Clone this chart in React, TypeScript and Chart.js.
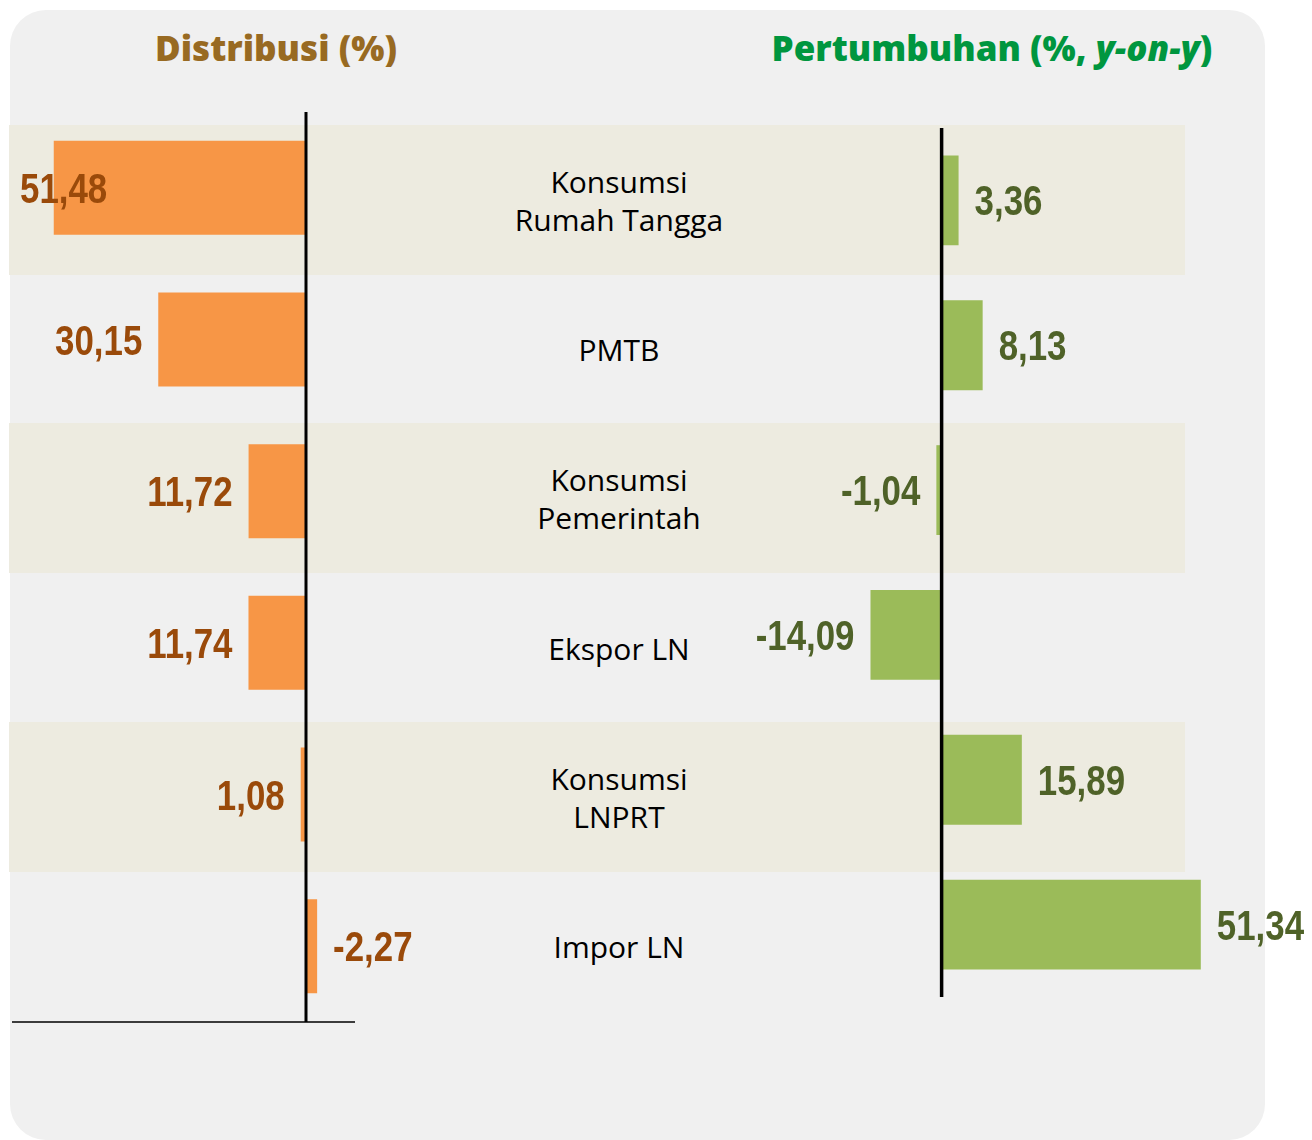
import React, { useEffect, useRef } from "react";
import { Chart, registerables } from "chart.js";

Chart.register(...registerables);

// ---- data ----
const categories: string[][] = [
  ["Konsumsi", "Rumah Tangga"],
  ["PMTB"],
  ["Konsumsi", "Pemerintah"],
  ["Ekspor LN"],
  ["Konsumsi", "LNPRT"],
  ["Impor LN"],
];
const distribusi = [51.48, 30.15, 11.72, 11.74, 1.08, -2.27];
const pertumbuhan = [3.36, 8.13, -1.04, -14.09, 15.89, 51.34];
const titleLeft = "Distribusi (%)";
const titleRightMain = "Pertumbuhan (%, ";
const titleRightItalic = "y-on-y";
const titleRightEnd = ")";

const fmt = (v: number) => v.toFixed(2).replace(".", ",");
const VALUE_FONT = "bold 42px 'Liberation Sans', Arial, sans-serif";
const NARROW = 0.83;

function valueLabelPlugin(color: string, gap: number, clampPad: number) {
  return {
    id: "valueLabels",
    afterDatasetsDraw(chart: any) {
      const ctx = chart.ctx as CanvasRenderingContext2D;
      const meta = chart.getDatasetMeta(0);
      const xs = chart.scales.x;
      const zero = xs.getPixelForValue(0);
      const vals = chart.data.datasets[0].data as number[];
      ctx.save();
      ctx.font = VALUE_FONT;
      ctx.fillStyle = color;
      ctx.textBaseline = "alphabetic";
      meta.data.forEach((bar: any, i: number) => {
        const text = fmt(vals[i]);
        const end = bar.x;
        const w = ctx.measureText(text).width * NARROW;
        const y = bar.y + 15;
        let xLeft: number;
        if (end < zero) {
          xLeft = end - gap - w;
          if (xLeft < chart.chartArea.left + clampPad) xLeft = chart.chartArea.left + clampPad;
        } else {
          xLeft = end + gap;
        }
        ctx.save();
        ctx.translate(xLeft, y);
        ctx.scale(NARROW, 1);
        ctx.textAlign = "left";
        ctx.fillText(text, 0, 0);
        ctx.restore();
      });
      ctx.restore();
    },
  };
}

function axisLinePlugin(width: number, bottomLineTo: number | null) {
  return {
    id: "axisLine",
    afterDatasetsDraw(chart: any) {
      const ctx = chart.ctx as CanvasRenderingContext2D;
      const { top, bottom, left } = chart.chartArea;
      const xs = chart.scales.x;
      const zero = xs.getPixelForValue(0);
      ctx.save();
      ctx.strokeStyle = "#000000";
      ctx.lineWidth = width;
      ctx.beginPath();
      ctx.moveTo(zero, top);
      ctx.lineTo(zero, bottom);
      ctx.stroke();
      if (bottomLineTo !== null) {
        ctx.lineWidth = 1.5;
        ctx.beginPath();
        ctx.moveTo(left, bottom);
        ctx.lineTo(xs.getPixelForValue(bottomLineTo), bottom);
        ctx.stroke();
      }
      ctx.restore();
    },
  };
}

function BarCanvas(props: {
  values: number[];
  color: string;
  labelColor: string;
  reverse: boolean;
  min: number;
  max: number;
  padding: { left: number; right: number; top: number; bottom: number };
  width: number;
  height: number;
  left: number;
  lineWidth: number;
  bottomLineTo: number | null;
}) {
  const ref = useRef<HTMLCanvasElement>(null);
  useEffect(() => {
    if (!ref.current) return;
    const chart = new Chart(ref.current, {
      type: "bar",
      data: {
        labels: categories.map((c) => c.join(" ")),
        datasets: [
          {
            data: props.values,
            backgroundColor: props.color,
            borderWidth: 0,
            barPercentage: 0.62,
            categoryPercentage: 1,
          },
        ],
      },
      options: {
        indexAxis: "y",
        animation: false,
        responsive: false,
        maintainAspectRatio: false,
        layout: { padding: props.padding },
        scales: {
          x: { display: false, reverse: props.reverse, min: props.min, max: props.max },
          y: { display: false },
        },
        plugins: { legend: { display: false }, tooltip: { enabled: false } },
      },
      plugins: [axisLinePlugin(props.lineWidth, props.bottomLineTo), valueLabelPlugin(props.labelColor, 16, 8)],
    } as any);
    return () => chart.destroy();
  }, []);
  return (
    <canvas
      ref={ref}
      width={props.width}
      height={props.height}
      style={{ position: "absolute", left: props.left, top: 0, width: props.width, height: props.height }}
    />
  );
}

export default function App() {
  const labelFont = "'Open Sans', 'Noto Sans', sans-serif";
  return (
    <div style={{ position: "absolute", left: 0, top: 0, width: 1312, height: 1140, background: "#ffffff", overflow: "hidden" }}>
      <div
        style={{
          position: "absolute",
          left: 10,
          top: 10,
          width: 1255,
          height: 1130,
          background: "#F0F0F0",
          borderRadius: 36,
        }}
      />
      {categories.map((_, i) =>
        i % 2 === 0 ? (
          <div
            key={"band" + i}
            style={{
              position: "absolute",
              left: 9,
              width: 1176,
              top: 125 + i * 149.2,
              height: 150,
              background: "#EDEBE0",
            }}
          />
        ) : null
      )}
      <div
        style={{
          position: "absolute",
          left: 76,
          width: 400,
          top: 28,
          textAlign: "center",
          fontFamily: labelFont,
          fontWeight: 800,
          fontSize: 35,
          lineHeight: "40px",
          color: "#986A22",
          whiteSpace: "nowrap",
        }}
      >
        {titleLeft}
      </div>
      <div
        style={{
          position: "absolute",
          left: 742,
          width: 500,
          top: 28,
          textAlign: "center",
          fontFamily: labelFont,
          fontWeight: 800,
          fontSize: 35,
          lineHeight: "40px",
          color: "#00963F",
          whiteSpace: "nowrap",
        }}
      >
        {titleRightMain}
        <i>{titleRightItalic}</i>
        {titleRightEnd}
      </div>
      {categories.map((lines, i) => (
        <div
          key={"lab" + i}
          style={{
            position: "absolute",
            left: 419,
            width: 400,
            top: 201 + i * 149.2 - (lines.length * 38) / 2,
            textAlign: "center",
            fontFamily: labelFont,
            fontSize: 30,
            lineHeight: "38px",
            color: "#000000",
          }}
        >
          {lines.map((l, j) => (
            <div key={j}>{l}</div>
          ))}
        </div>
      ))}
      <BarCanvas
        values={distribusi}
        color="#F79646"
        labelColor="#9A4A0A"
        reverse={true}
        min={-70}
        max={60}
        padding={{ left: 12, right: 11, top: 112, bottom: 118 }}
        width={660}
        height={1140}
        left={0}
        lineWidth={3}
        bottomLineTo={-10}
      />
      <BarCanvas
        values={pertumbuhan}
        color="#9BBB59"
        labelColor="#4F6228"
        reverse={false}
        min={-54}
        max={70}
        padding={{ left: 9, right: 17, top: 128, bottom: 143 }}
        width={652}
        height={1140}
        left={660}
        lineWidth={3.5}
        bottomLineTo={null}
      />
    </div>
  );
}
